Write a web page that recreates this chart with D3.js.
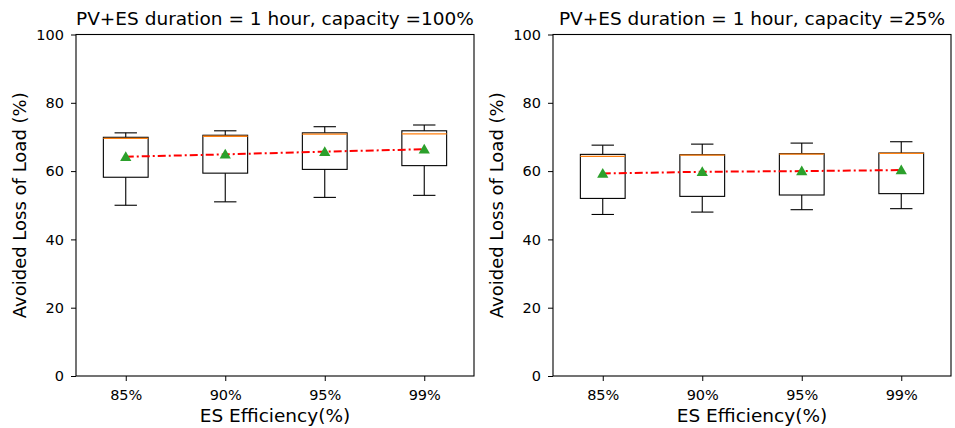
<!DOCTYPE html>
<html>
<head>
<meta charset="utf-8">
<script src="https://cdn.jsdelivr.net/npm/d3@7"></script>
<style>
  body { margin: 0; background: #fff; }
  svg text { font-family: "DejaVu Sans", sans-serif; fill: #000; }
</style>
</head>
<body>
<svg id="chart"></svg>
<script>
// categories along the x axis
var efficiencies = ["85%", "90%", "95%", "99%"];
var yTicks = [0, 20, 40, 60, 80, 100];

// capacity = 100%
var full_whiskLow  = [50.0, 51.0, 52.3, 52.9];
var full_q1        = [58.2, 59.4, 60.5, 61.6];
var full_median    = [69.6, 70.2, 70.8, 70.9];
var full_q3        = [69.9, 70.5, 71.2, 71.8];
var full_whiskHigh = [71.2, 71.8, 73.0, 73.5];
var full_mean      = [64.2, 64.9, 65.7, 66.4];

// capacity = 25%
var quarter_whiskLow  = [47.3, 48.0, 48.7, 49.0];
var quarter_q1        = [52.0, 52.6, 53.0, 53.4];
var quarter_median    = [64.3, 64.7, 65.0, 65.2];
var quarter_q3        = [64.9, 64.8, 65.1, 65.3];
var quarter_whiskHigh = [67.6, 67.9, 68.2, 68.6];
var quarter_mean      = [59.3, 59.8, 60.0, 60.3];

var panels = [
  { title: "PV+ES duration = 1 hour, capacity =100%",
    lo: full_whiskLow, q1: full_q1, med: full_median, q3: full_q3, hi: full_whiskHigh, mean: full_mean },
  { title: "PV+ES duration = 1 hour, capacity =25%",
    lo: quarter_whiskLow, q1: quarter_q1, med: quarter_median, q3: quarter_q3, hi: quarter_whiskHigh, mean: quarter_mean }
];

var W = 955, H = 428;
var svg = d3.select("#chart").attr("width", W).attr("height", H);

var plotW = 398, plotH = 341.5, plotTop = 34.5;
var lefts = [76, 553];

panels.forEach(function(p, pi) {
  var g = svg.append("g").attr("transform", `translate(${lefts[pi]}, ${plotTop})`);

  var x = d3.scaleLinear().domain([0.5, 4.5]).range([0, plotW]);
  var y = d3.scaleLinear().domain([0, 100]).range([plotH, 0]);

  var rows = efficiencies.map((e, i) => ({
    pos: i + 1, lo: p.lo[i], q1: p.q1[i], med: p.med[i], q3: p.q3[i], hi: p.hi[i], mean: p.mean[i]
  }));

  var boxW = 0.45, capW = 0.225;

  var boxes = g.selectAll("g.box").data(rows).enter().append("g").attr("class", "box");

  // whiskers
  boxes.append("line")
    .attr("x1", d => x(d.pos)).attr("x2", d => x(d.pos))
    .attr("y1", d => y(d.q1)).attr("y2", d => y(d.lo))
    .attr("stroke", "#000").attr("stroke-width", 1.1);
  boxes.append("line")
    .attr("x1", d => x(d.pos)).attr("x2", d => x(d.pos))
    .attr("y1", d => y(d.q3)).attr("y2", d => y(d.hi))
    .attr("stroke", "#000").attr("stroke-width", 1.1);
  // caps
  boxes.append("line")
    .attr("x1", d => x(d.pos - capW / 2)).attr("x2", d => x(d.pos + capW / 2))
    .attr("y1", d => y(d.lo)).attr("y2", d => y(d.lo))
    .attr("stroke", "#000").attr("stroke-width", 1.1);
  boxes.append("line")
    .attr("x1", d => x(d.pos - capW / 2)).attr("x2", d => x(d.pos + capW / 2))
    .attr("y1", d => y(d.hi)).attr("y2", d => y(d.hi))
    .attr("stroke", "#000").attr("stroke-width", 1.1);
  // box
  boxes.append("rect")
    .attr("x", d => x(d.pos - boxW / 2))
    .attr("width", x(boxW) - x(0))
    .attr("y", d => y(d.q3))
    .attr("height", d => y(d.q1) - y(d.q3))
    .attr("fill", "none").attr("stroke", "#000").attr("stroke-width", 1.1);
  // median
  boxes.append("line")
    .attr("x1", d => x(d.pos - boxW / 2)).attr("x2", d => x(d.pos + boxW / 2))
    .attr("y1", d => y(d.med)).attr("y2", d => y(d.med))
    .attr("stroke", "#ff7f0e").attr("stroke-width", 1.3);

  // mean trend line
  g.append("path")
    .datum(rows)
    .attr("d", d3.line().x(d => x(d.pos)).y(d => y(d.mean)))
    .attr("fill", "none").attr("stroke", "#ff0000").attr("stroke-width", 2)
    .attr("stroke-dasharray", "8,3,2,3");

  // mean markers
  g.selectAll("path.mean").data(rows).enter().append("path")
    .attr("class", "mean")
    .attr("d", d3.symbol().type(d3.symbolTriangle).size(55))
    .attr("transform", d => `translate(${x(d.pos)}, ${y(d.mean) + 1})`)
    .attr("fill", "#2ca02c");

  // axes
  var xAxis = g.append("g").attr("transform", `translate(0, ${plotH})`)
    .call(d3.axisBottom(x).tickValues([1, 2, 3, 4]).tickFormat((d, i) => efficiencies[i]).tickSize(5).tickPadding(8.5));
  var yAxis = g.append("g")
    .call(d3.axisLeft(y).tickValues(yTicks).tickSize(5).tickPadding(7));
  [xAxis, yAxis].forEach(a => {
    a.select(".domain").remove();
    a.selectAll("text").style("font-size", "14.5px").style("font-family", "DejaVu Sans").attr("fill", "#222");
    a.selectAll("line").attr("stroke", "#000");
  });

  // frame
  g.append("rect").attr("width", plotW).attr("height", plotH)
    .attr("fill", "none").attr("stroke", "#000").attr("stroke-width", 1.1);

  g.append("text")
    .attr("x", plotW / 2).attr("y", -9.5)
    .attr("text-anchor", "middle").style("font-size", "18.5px")
    .text(p.title);

  g.append("text")
    .attr("x", plotW / 2).attr("y", plotH + 46)
    .attr("text-anchor", "middle").style("font-size", "18.5px")
    .text("ES Efficiency(%)");

  g.append("text")
    .attr("transform", "rotate(-90)")
    .attr("x", -plotH / 2).attr("y", -50)
    .attr("text-anchor", "middle").style("font-size", "18px")
    .text("Avoided Loss of Load (%)");
});
</script>
</body>
</html>
